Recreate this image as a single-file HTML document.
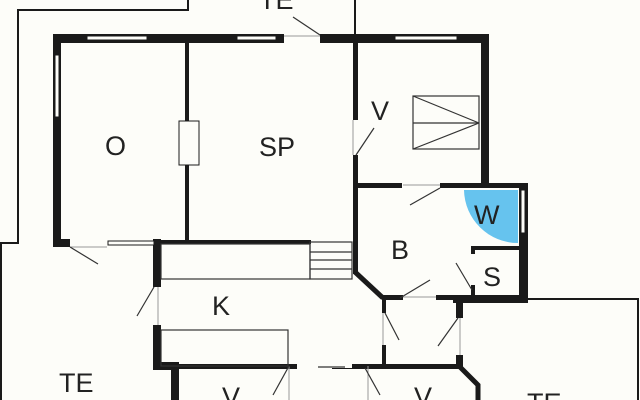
<!DOCTYPE html>
<html><head><style>body{margin:0;background:#fdfdf9}svg{display:block}text{font-family:"Liberation Sans",sans-serif;fill:#222}</style></head><body>
<svg width="640" height="400" viewBox="0 0 640 400">
<rect width="640" height="400" fill="#fdfdf9"/>
<g fill="none" stroke="#1a1a1a" stroke-width="2">
<polyline points="188,0 188,10 18,10 18,243 1,243 1,400"/>
<line x1="355" y1="0" x2="355" y2="40"/>
<polyline points="525,299 638,299 638,400"/>
</g>
<g fill="#1a1a1a">
<rect x="53" y="34" width="231" height="9"/>
<rect x="320" y="34" width="167" height="9"/>
<rect x="53" y="34" width="8" height="213"/>
<rect x="53" y="239" width="17" height="8"/>
<rect x="185" y="38" width="4" height="204"/>
<rect x="353" y="38" width="5" height="236"/>
<rect x="481" y="34" width="8" height="154"/>
<rect x="355" y="183" width="172" height="5"/>
<rect x="519" y="183" width="9" height="117"/>
<rect x="471" y="246" width="53" height="4"/>
<rect x="471" y="246" width="4" height="8"/>
<rect x="471" y="285" width="4" height="13"/>
<rect x="453" y="295" width="75" height="8"/>
<rect x="383" y="295" width="20" height="5"/>
<rect x="436" y="295" width="25" height="5"/>
<rect x="382" y="298" width="4" height="15"/>
<rect x="382" y="345" width="4" height="22"/>
<rect x="456" y="298" width="7" height="20"/>
<rect x="456" y="355" width="7" height="12"/>
<rect x="175" y="364" width="122" height="5"/>
<rect x="352" y="364" width="110" height="5"/>
<rect x="332" y="368" width="20" height="1"/>
<rect x="157" y="240" width="154" height="4"/>
<rect x="153" y="239" width="8" height="48"/>
<rect x="153" y="325" width="8" height="45"/>
<rect x="153" y="362" width="25" height="8"/>
<rect x="171" y="362" width="8" height="38"/>
</g>
<g stroke="#1a1a1a" stroke-width="5" fill="none">
<polyline points="355,272 383,298"/>
<polyline points="459,366 478,385 478,400"/>
</g>
<g fill="#fdfdf9" stroke="#1a1a1a" stroke-width="1">
<rect x="87" y="36" width="60" height="4"/>
<rect x="237" y="36" width="39" height="4"/>
<rect x="395" y="36" width="62" height="4"/>
<rect x="55" y="55" width="4" height="62"/>
<rect x="108" y="241" width="46" height="4"/>
<rect x="521" y="190" width="4" height="43"/>
<rect x="179" y="121" width="20" height="44"/>
</g>
<g fill="#fdfdf9">
<rect x="353" y="120" width="5" height="35"/>
<rect x="402" y="183" width="38" height="5"/>
</g>
<g stroke="#999" stroke-width="1" fill="none">
<line x1="284" y1="36" x2="320" y2="36"/>
<line x1="70" y1="247" x2="107" y2="247"/>
<line x1="158" y1="287" x2="158" y2="325"/>
<line x1="353" y1="120" x2="353" y2="155"/>
<line x1="403" y1="185" x2="440" y2="185"/>
<line x1="403" y1="297" x2="436" y2="297"/>
<line x1="383" y1="313" x2="383" y2="345"/>
<line x1="460" y1="318" x2="460" y2="355"/>
<line x1="289" y1="366" x2="289" y2="400"/>
<line x1="368" y1="366" x2="368" y2="400"/>
</g>
<g stroke="#333" stroke-width="1.2" fill="none">
<line x1="293" y1="17" x2="320" y2="35"/>
<line x1="70" y1="247" x2="98" y2="264"/>
<line x1="154" y1="287" x2="137" y2="316"/>
<line x1="356" y1="155" x2="374" y2="128"/>
<line x1="440" y1="188" x2="410" y2="205"/>
<line x1="472" y1="290" x2="456" y2="263"/>
<line x1="400" y1="298" x2="430" y2="280"/>
<line x1="385" y1="313" x2="399" y2="340"/>
<line x1="458" y1="318" x2="438" y2="346"/>
<line x1="289" y1="366" x2="273" y2="395"/>
<line x1="365" y1="368" x2="380" y2="395"/>
<line x1="318" y1="367" x2="345" y2="367"/>
<rect x="161" y="244" width="149" height="35"/>
<rect x="310" y="242" width="42" height="37"/>
<line x1="310" y1="252" x2="352" y2="252"/>
<line x1="310" y1="260" x2="352" y2="260"/>
<line x1="310" y1="269" x2="352" y2="269"/>
<rect x="161" y="330" width="127" height="36"/>
<rect x="413" y="96" width="66" height="53"/>
<line x1="413" y1="123" x2="479" y2="123"/>
<line x1="413" y1="96" x2="479" y2="123"/>
<line x1="413" y1="149" x2="479" y2="123"/>
</g>
<path d="M464,190 L518,190 L518,243 A54,54 0 0 1 464,190 Z" fill="#66c3ee"/>
<g font-size="27">
<text x="105" y="155">O</text>
<text x="259" y="156">SP</text>
<text x="371" y="120">V</text>
<text x="391" y="259">B</text>
<text x="474" y="224">W</text>
<text x="483" y="286">S</text>
<text x="212" y="315">K</text>
<text x="59" y="392">TE</text>
<text x="222" y="406">V</text>
<text x="414" y="406">V</text>
<text x="527" y="412">TE</text>
<text x="259" y="9">TE</text>
</g>
</svg>
</body></html>
